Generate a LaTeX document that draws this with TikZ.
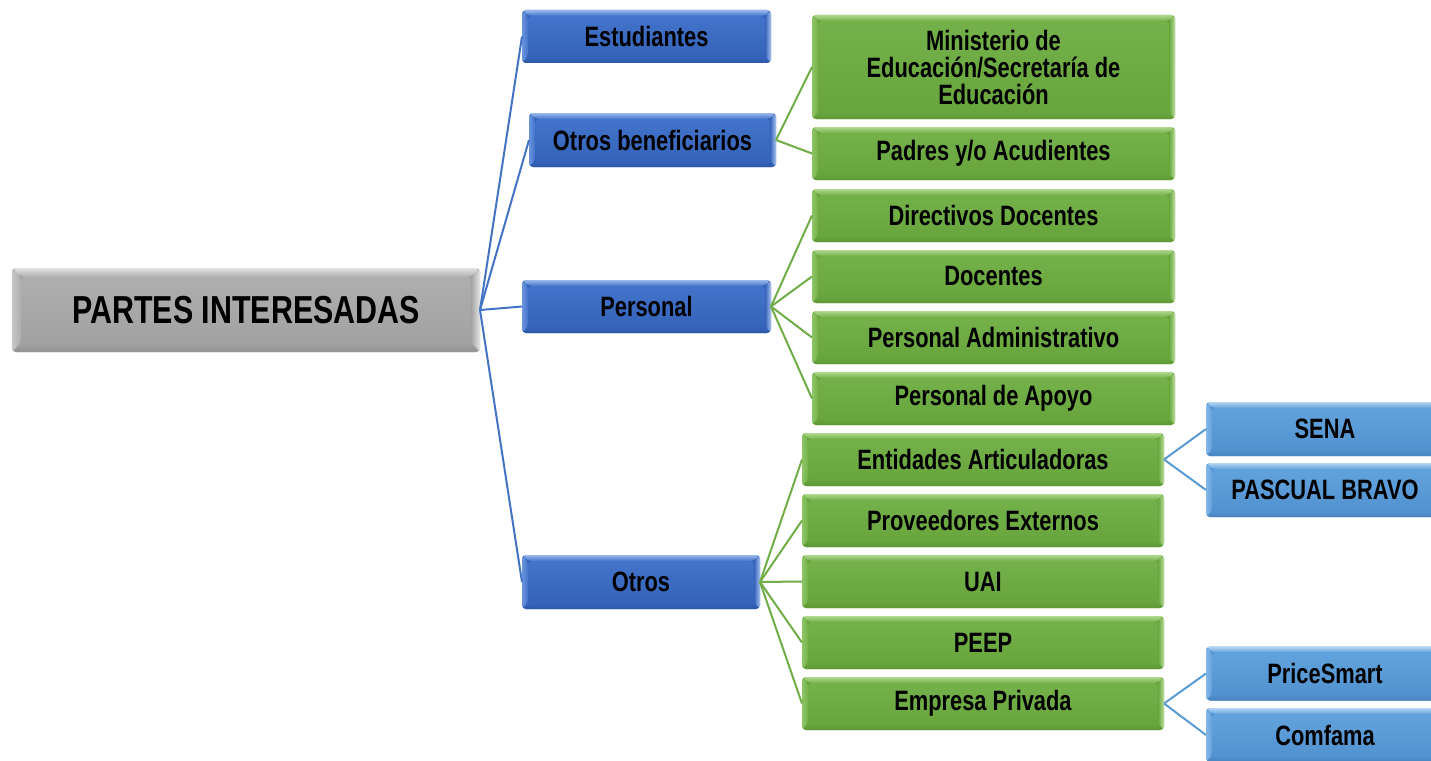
\documentclass[tikz,border=0pt]{standalone}
\usepackage{fontspec}
\setmainfont{Liberation Sans}[FakeStretch=0.78]
\definecolor{blutop}{HTML}{4373CA}\definecolor{blubot}{HTML}{3563BA}
\definecolor{blulight}{HTML}{9AB8EC}\definecolor{bluleft}{HTML}{6A94DC}
\definecolor{bluright}{HTML}{A9C4F0}\definecolor{bludark}{HTML}{2F59A8}
\definecolor{grntop}{HTML}{75B14A}\definecolor{grnbot}{HTML}{68A53D}
\definecolor{grnlight}{HTML}{B0D98E}\definecolor{grnleft}{HTML}{8EC566}
\definecolor{grnright}{HTML}{BEE0A0}\definecolor{grndark}{HTML}{5E9835}
\definecolor{lbltop}{HTML}{62A2DC}\definecolor{lblbot}{HTML}{5292D0}
\definecolor{lbllight}{HTML}{B5D6F4}\definecolor{lblleft}{HTML}{84B8E8}
\definecolor{lblright}{HTML}{C0DCF6}\definecolor{lbldark}{HTML}{4883BE}
\definecolor{grytop}{HTML}{AEAEAE}\definecolor{grybot}{HTML}{A2A2A2}
\definecolor{grylight}{HTML}{E2E2E2}\definecolor{gryleft}{HTML}{C6C6C6}
\definecolor{gryright}{HTML}{E6E6E6}\definecolor{grydark}{HTML}{929292}
\definecolor{lineblue}{HTML}{4472C4}
\definecolor{linegreen}{HTML}{70AD47}
\definecolor{linelblue}{HTML}{5B9BD5}
\tikzset{
  bev/.style 2 args={rounded corners=4pt, fill=#1bot, inner sep=0pt, outer sep=0pt,
    align=center, font=\fontsize{28}{27}\selectfont\bfseries,
    path picture={
      \coordinate (ppnw) at (path picture bounding box.north west);
      \coordinate (ppne) at (path picture bounding box.north east);
      \coordinate (ppsw) at (path picture bounding box.south west);
      \coordinate (ppse) at (path picture bounding box.south east);
      \coordinate (pinw) at ([xshift=#2,yshift=-#2]ppnw);
      \coordinate (pine) at ([xshift=-#2,yshift=-#2]ppne);
      \coordinate (pisw) at ([xshift=#2,yshift=#2]ppsw);
      \coordinate (pise) at ([xshift=-#2,yshift=#2]ppse);
      \shade[top color=#1light, bottom color=#1top] (ppnw) -- (ppne) -- (pine) -- (pinw) -- cycle;
      \shade[left color=#1left, right color=#1top] (ppnw) -- (pinw) -- (pisw) -- (ppsw) -- cycle;
      \shade[left color=#1bot, right color=#1right] (ppne) -- (pine) -- (pise) -- (ppse) -- cycle;
      \shade[top color=#1bot, bottom color=#1dark] (ppsw) -- (pisw) -- (pise) -- (ppse) -- cycle;
      \shade[top color=#1top, bottom color=#1bot] (pinw) rectangle (pise);
    }},
  l1/.style={bev={blu}{6pt}, minimum width=249pt, minimum height=53pt},
  l2/.style={bev={grn}{6pt}, minimum width=363pt, minimum height=53pt},
  l3/.style={bev={lbl}{6pt}, minimum width=238pt, minimum height=54pt},
  rootbox/.style={bev={gry}{9pt}, minimum width=468pt, minimum height=84pt,
    font=\fontsize{39}{40}\selectfont\bfseries},
  conn/.style={line width=2pt},
}
\begin{document}
\begin{tikzpicture}[x=1pt,y=-1pt]
\useasboundingbox[fill=white] (0,0) rectangle (1431,760);
% root
\node[rootbox] (root) at (246,310) {PARTES INTERESADAS};
% level 1
\node[l1] (est) at (646.5,36.5) {Estudiantes};
\node[l1, minimum width=247pt, minimum height=54pt] (otb) at (652.5,140) {Otros beneficiarios};
\node[l1] (per) at (646.5,306.5) {Personal};
\node[l1, minimum width=238pt, minimum height=54pt] (otr) at (641,582) {Otros};
% level 2
\node[l2, minimum height=104pt] (min) at (993.5,67) {Ministerio de\\Educación/Secretaría de\\Educación};
\node[l2] (pad) at (993.5,153.5) {Padres y/o Acudientes};
\node[l2] (dir) at (993.5,215.5) {Directivos Docentes};
\node[l2] (doc) at (993.5,276.5) {Docentes};
\node[l2] (adm) at (993.5,337.5) {Personal Administrativo};
\node[l2] (apo) at (993.5,398.5) {Personal de Apoyo};
\node[l2, minimum width=362pt] (ent) at (983,459.5) {Entidades Articuladoras};
\node[l2, minimum width=362pt] (pro) at (983,520.5) {Proveedores Externos};
\node[l2, minimum width=362pt] (uai) at (983,581.5) {UAI};
\node[l2, minimum width=362pt] (pee) at (983,642.5) {PEEP};
\node[l2, minimum width=362pt] (emp) at (983,703.5) {Empresa Privada};
% level 3
\node[l3] (sena) at (1325,429) {SENA};
\node[l3] (pas) at (1325,490) {PASCUAL BRAVO};
\node[l3] (pri) at (1325,673.5) {PriceSmart};
\node[l3] (com) at (1325,735) {Comfama};
% connectors
\foreach \t in {est,otb,per,otr}
  \draw[conn, lineblue] (root.east) -- (\t.west);
\foreach \t in {min,pad}
  \draw[conn, linegreen] (otb.east) -- (\t.west);
\foreach \t in {dir,doc,adm,apo}
  \draw[conn, linegreen] (per.east) -- (\t.west);
\foreach \t in {ent,pro,uai,pee,emp}
  \draw[conn, linegreen] (otr.east) -- (\t.west);
\foreach \t in {sena,pas}
  \draw[conn, linelblue] (ent.east) -- (\t.west);
\foreach \t in {pri,com}
  \draw[conn, linelblue] (emp.east) -- (\t.west);
\end{tikzpicture}
\end{document}
